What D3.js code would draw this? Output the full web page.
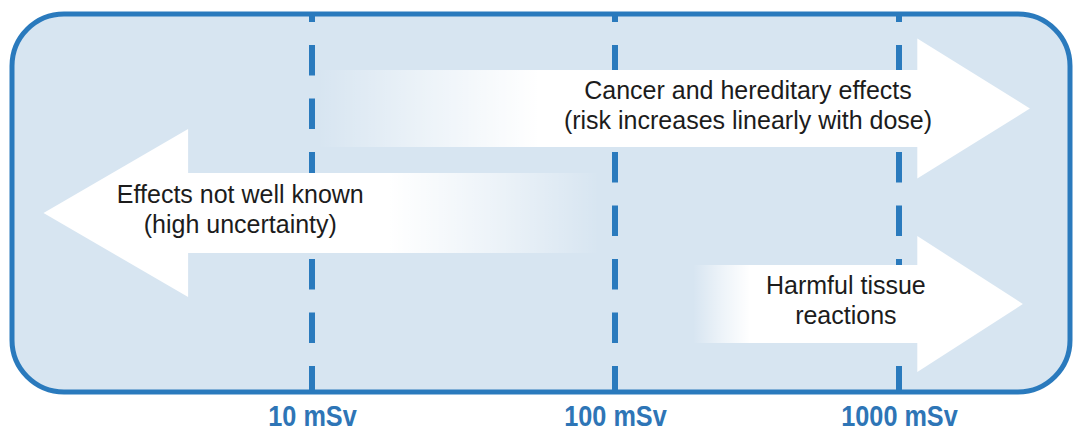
<!DOCTYPE html>
<html>
<head>
<meta charset="utf-8">
<script src="https://cdn.jsdelivr.net/npm/d3@7"></script>
<style>
    body { margin: 0; background: #fff; }
</style>
</head>
<body>
<svg id="chart" width="1073" height="434"></svg>
<script>
// dose ticks (mSv) and their labels
var doseTicks = [10, 100, 1000];
var tickLabels = ["10 mSv", "100 mSv", "1000 mSv"];

// arrows in mSv
var arrowNames = ["cancer", "unknown", "tissue"];
var arrowLines = [
    ["Cancer and hereditary effects", "(risk increases linearly with dose)"],
    ["Effects not well known", "(high uncertainty)"],
    ["Harmful tissue", "reactions"]
];
var arrowTailDose = [10.4, 89, 188];    // where the shaft fades in
var arrowSolidDose = [56, 18, 299];     // where the shaft is fully white
var arrowHeadDose = [1160, 3.9, 1160];  // base of the arrow head
var arrowTipDose = [2890, 1.3, 2730];   // tip of the arrow head
var arrowLabelDose = [294, 5.8, 650];   // centre of the label

var svg = d3.select("#chart");

// piecewise log scale: the decades are not quite evenly spaced in the figure
var x = d3.scaleLog().domain(doseTicks).range([312, 615, 899]);
var y = d3.scaleOrdinal().domain(arrowNames).range([108.5, 213, 304]);

var box = {left: 12, top: 14, right: 1070, bottom: 392};
var blue = "#2a7abd";

// shaft and head half heights for each arrow
var shaftHalf = [38.5, 40, 39];
var headHalf = [70, 84, 68];

svg.append("rect")
    .attr("x", box.left).attr("y", box.top)
    .attr("width", box.right - box.left).attr("height", box.bottom - box.top)
    .attr("rx", 52).attr("ry", 52)
    .attr("fill", "#d7e5f1")
    .attr("stroke", blue)
    .attr("stroke-width", 5);

// dashed dose lines
svg.append("g").selectAll("line")
    .data(doseTicks)
    .enter().append("line")
    .attr("x1", function (d) { return x(d); })
    .attr("x2", function (d) { return x(d); })
    .attr("y1", box.top)
    .attr("y2", box.bottom)
    .attr("stroke", blue)
    .attr("stroke-width", 6)
    .attr("stroke-dasharray", "30.5 23")
    .attr("stroke-dashoffset", 22.5);

var defs = svg.append("defs");

function arrow_path(i) {
    var cy = y(arrowNames[i]);
    var xt = x(arrowTailDose[i]), xh = x(arrowHeadDose[i]), xp = x(arrowTipDose[i]);
    var sh = shaftHalf[i], hh = headHalf[i];
    return "M" + xt + "," + (cy - sh) +
        "L" + xh + "," + (cy - sh) +
        "L" + xh + "," + (cy - hh) +
        "L" + xp + "," + cy +
        "L" + xh + "," + (cy + hh) +
        "L" + xh + "," + (cy + sh) +
        "L" + xt + "," + (cy + sh) + "Z";
}

arrowNames.forEach(function (name, i) {
    var grad = defs.append("linearGradient")
        .attr("id", "fade_" + name)
        .attr("gradientUnits", "userSpaceOnUse")
        .attr("x1", x(arrowTailDose[i])).attr("x2", x(arrowSolidDose[i]))
        .attr("y1", 0).attr("y2", 0);
    grad.append("stop").attr("offset", 0).attr("stop-color", "#fff").attr("stop-opacity", 0);
    grad.append("stop").attr("offset", 0.5).attr("stop-color", "#fff").attr("stop-opacity", 0.55);
    grad.append("stop").attr("offset", 1).attr("stop-color", "#fff").attr("stop-opacity", 1);
});

var arrows = svg.append("g").selectAll("g")
    .data(arrowNames)
    .enter().append("g");

arrows.append("path")
    .attr("d", function (d, i) { return arrow_path(i); })
    .attr("fill", function (d) { return "url(#fade_" + d + ")"; });

arrows.append("text")
    .attr("text-anchor", "middle")
    .style("font-family", "'Liberation Sans', Arial, sans-serif")
    .style("font-size", "25px")
    .style("fill", "#1c1c1c")
    .each(function (d, i) {
        var t = d3.select(this);
        arrowLines[i].forEach(function (line, k) {
            t.append("tspan")
                .attr("x", x(arrowLabelDose[i]))
                .attr("y", y(d) - 10 + k * 30)
                .text(line);
        });
    });

// dose labels under the box
var axis = d3.axisBottom(x)
    .tickValues(doseTicks)
    .tickFormat(function (d, i) { return tickLabels[i]; })
    .tickSize(0)
    .tickPadding(13);

var ax = svg.append("g")
    .attr("transform", "translate(0," + box.bottom + ")")
    .call(axis);
ax.select(".domain").remove();
ax.selectAll("text")
    .attr("transform", "scale(0.87,1)")
    .style("font-family", "'Liberation Sans', Arial, sans-serif")
    .style("font-size", "29px")
    .style("font-weight", "bold")
    .style("fill", "#2e75b6");
</script>
</body>
</html>
